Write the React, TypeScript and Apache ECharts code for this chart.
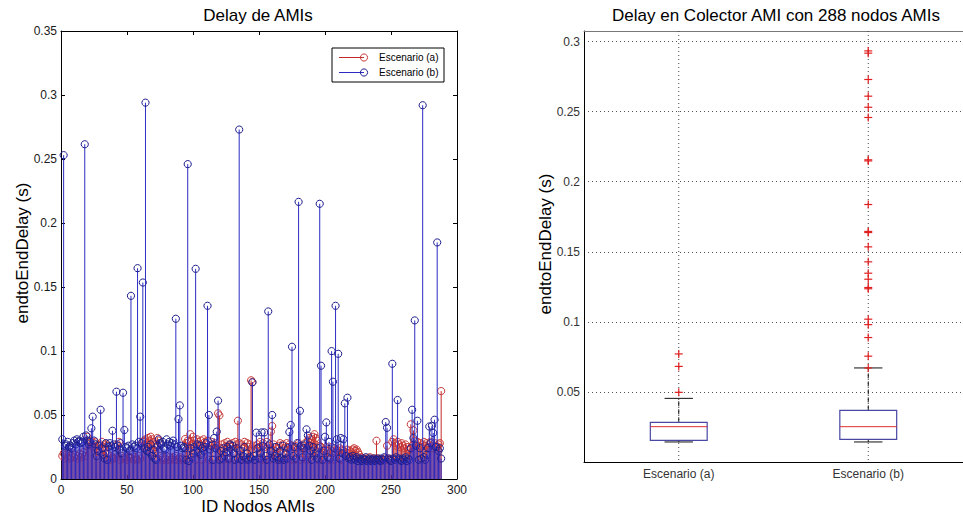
import React, { useEffect, useRef } from 'react';
import * as echarts from 'echarts';

const FONT = '"Liberation Sans", Arial, Helvetica, sans-serif';

// Node ids 1..288 (x positions of the stems)
const nodeIds: number[] = Array.from({ length: 288 }, (_, i) => i + 1);

// Escenario (a) - end-to-end delay per node (s)
const delayA: number[] = [
  0.018, 0.020, 0.016, 0.019, 0.017, 0.021, 0.016, 0.018, 0.020, 0.017, 0.019, 0.016,
  0.018, 0.020, 0.017, 0.019, 0.021, 0.018, 0.026, 0.033, 0.028, 0.030, 0.027, 0.025,
  0.028, 0.029, 0.024, 0.026, 0.021, 0.027, 0.029, 0.025, 0.023, 0.027, 0.020, 0.026,
  0.015, 0.018, 0.016, 0.016, 0.019, 0.017, 0.027, 0.029, 0.015, 0.018, 0.016, 0.017,
  0.016, 0.015, 0.018, 0.017, 0.016, 0.019, 0.015, 0.017, 0.016, 0.015, 0.018, 0.016,
  0.026, 0.029, 0.030, 0.031, 0.028, 0.032, 0.030, 0.033, 0.031, 0.029, 0.027, 0.025,
  0.032, 0.030, 0.018, 0.015, 0.017, 0.015, 0.016, 0.018, 0.015, 0.017, 0.015, 0.016,
  0.017, 0.015, 0.018, 0.015, 0.016, 0.017, 0.015, 0.016, 0.015, 0.0312, 0.028, 0.030,
  0.029, 0.035, 0.027, 0.033, 0.030, 0.015, 0.031, 0.029, 0.027, 0.030, 0.015, 0.031,
  0.029, 0.027, 0.030, 0.015, 0.026, 0.029, 0.027, 0.015, 0.028, 0.026, 0.0513, 0.0497,
  0.024, 0.027, 0.015, 0.028, 0.026, 0.029, 0.015, 0.027, 0.025, 0.028, 0.015, 0.029,
  0.027, 0.0455, 0.028, 0.015, 0.027, 0.024, 0.029, 0.015, 0.028, 0.025, 0.027, 0.0771,
  0.0758, 0.026, 0.015, 0.024, 0.027, 0.025, 0.029, 0.015, 0.028, 0.025, 0.015, 0.029,
  0.026, 0.015, 0.037, 0.0414, 0.027, 0.025, 0.015, 0.024, 0.026, 0.028, 0.015, 0.027,
  0.024, 0.015, 0.028, 0.025, 0.027, 0.015, 0.026, 0.025, 0.015, 0.024, 0.026, 0.028,
  0.025, 0.015, 0.024, 0.026, 0.028, 0.015, 0.030, 0.032, 0.028, 0.031, 0.033, 0.035,
  0.032, 0.030, 0.015, 0.026, 0.025, 0.024, 0.015, 0.023, 0.025, 0.022, 0.015, 0.023,
  0.025, 0.022, 0.015, 0.021, 0.023, 0.022, 0.024, 0.015, 0.023, 0.022, 0.020, 0.021,
  0.023, 0.020, 0.022, 0.021, 0.023, 0.024, 0.022, 0.023, 0.021, 0.019, 0.017, 0.016,
  0.015, 0.016, 0.015, 0.016, 0.015, 0.017, 0.015, 0.016, 0.015, 0.016, 0.0299, 0.015,
  0.016, 0.015, 0.014, 0.015, 0.016, 0.015, 0.026, 0.015, 0.016, 0.015, 0.029, 0.031,
  0.028, 0.026, 0.029, 0.027, 0.025, 0.028, 0.026, 0.024, 0.027, 0.025, 0.023, 0.023,
  0.0427, 0.026, 0.038, 0.030, 0.027, 0.029, 0.026, 0.028, 0.025, 0.027, 0.029, 0.026,
  0.028, 0.025, 0.027, 0.029, 0.026, 0.024, 0.028, 0.026, 0.025, 0.027, 0.028, 0.0687,
];

// Escenario (b) - end-to-end delay per node (s)
const delayB: number[] = [
  0.031, 0.253, 0.026, 0.027, 0.029, 0.025, 0.026, 0.024, 0.028, 0.030, 0.027, 0.031,
  0.029, 0.030, 0.028, 0.029, 0.033, 0.2615, 0.034, 0.030, 0.027, 0.029, 0.0396, 0.0487,
  0.030, 0.027, 0.018, 0.022, 0.026, 0.0541, 0.024, 0.019, 0.016, 0.028, 0.015, 0.025,
  0.028, 0.026, 0.0377, 0.027, 0.025, 0.0682, 0.026, 0.023, 0.028, 0.020, 0.0674, 0.0383,
  0.025, 0.024, 0.026, 0.022, 0.1431, 0.027, 0.025, 0.026, 0.024, 0.1647, 0.029, 0.0487,
  0.028, 0.1535, 0.024, 0.294, 0.022, 0.025, 0.021, 0.027, 0.018, 0.023, 0.016, 0.015,
  0.026, 0.031, 0.028, 0.027, 0.029, 0.024, 0.023, 0.031, 0.027, 0.029, 0.026, 0.028,
  0.030, 0.027, 0.1252, 0.025, 0.0468, 0.0575, 0.026, 0.024, 0.025, 0.024, 0.015, 0.246,
  0.014, 0.024, 0.017, 0.020, 0.025, 0.1642, 0.027, 0.021, 0.026, 0.019, 0.024, 0.022,
  0.025, 0.028, 0.1353, 0.0500, 0.023, 0.026, 0.015, 0.032, 0.024, 0.037, 0.0612, 0.015,
  0.022, 0.016, 0.024, 0.018, 0.021, 0.025, 0.016, 0.027, 0.023, 0.026, 0.020, 0.015,
  0.024, 0.016, 0.273, 0.022, 0.015, 0.018, 0.025, 0.016, 0.020, 0.015, 0.017, 0.016,
  0.0755, 0.018, 0.015, 0.0362, 0.024, 0.016, 0.020, 0.0364, 0.026, 0.0364, 0.018, 0.015,
  0.1309, 0.027, 0.022, 0.0500, 0.016, 0.018, 0.025, 0.017, 0.015, 0.022, 0.016, 0.026,
  0.015, 0.020, 0.016, 0.024, 0.0367, 0.0422, 0.1033, 0.018, 0.025, 0.016, 0.028, 0.2165,
  0.0533, 0.026, 0.017, 0.024, 0.027, 0.0388, 0.034, 0.026, 0.022, 0.015, 0.025, 0.018,
  0.020, 0.016, 0.024, 0.215, 0.0885, 0.015, 0.022, 0.033, 0.0442, 0.017, 0.029, 0.016,
  0.0999, 0.076, 0.024, 0.1353, 0.031, 0.0978, 0.016, 0.032, 0.020, 0.031, 0.0591, 0.018,
  0.0635, 0.016, 0.017, 0.015, 0.018, 0.016, 0.015, 0.017, 0.014, 0.016, 0.015, 0.014,
  0.016, 0.015, 0.017, 0.014, 0.015, 0.016, 0.014, 0.015, 0.016, 0.014, 0.015, 0.016,
  0.015, 0.014, 0.016, 0.015, 0.017, 0.0445, 0.040, 0.016, 0.015, 0.014, 0.090, 0.016,
  0.015, 0.017, 0.0617, 0.016, 0.015, 0.014, 0.016, 0.015, 0.017, 0.014, 0.016, 0.015,
  0.024, 0.0541, 0.032, 0.1239, 0.026, 0.0455, 0.015, 0.024, 0.016, 0.292, 0.017, 0.015,
  0.019, 0.024, 0.041, 0.028, 0.0416, 0.036, 0.0463, 0.025, 0.1848, 0.022, 0.024, 0.016,
];

// Boxplot (right panel)
const boxCategories: string[] = ['Escenario (a)', 'Escenario (b)'];
// [lower whisker, Q1, median, Q3, upper whisker]
const boxA: number[] = [0.0143, 0.0154, 0.0252, 0.0283, 0.0454];
const boxB: number[] = [0.0143, 0.0161, 0.0252, 0.0368, 0.0671];
const outliersA: number[] = [0.0497, 0.0682, 0.0771];
const outliersB: number[] = [
  0.0671, 0.0755, 0.0888, 0.098, 0.1019, 0.1236, 0.1245, 0.1304, 0.1347, 0.1428, 0.1535,
  0.1637, 0.1645, 0.1837, 0.2148, 0.2156, 0.2458, 0.2531, 0.261, 0.2729, 0.2917, 0.2933,
];

const RED_STEM = '#c42a2a';
const RED_MARK = '#c83a3a';
const BLUE_STEM = '#2c2cc4';
const BLUE_MARK = '#1e1e8e';
const BOX_BLUE = '#4848a4';

const fmt = (v: number) => (v === 0 ? '0' : String(parseFloat(v.toFixed(2))));

const stemRender = (stem: string, mark: string) => (params: any, api: any) => {
  const x = api.value(0);
  const y = api.value(1);
  const top = api.coord([x, y]);
  const base = api.coord([x, 0]);
  return {
    type: 'group',
    children: [
      {
        type: 'line',
        shape: { x1: top[0], y1: base[1], x2: top[0], y2: top[1] },
        style: { stroke: stem, lineWidth: 1 },
      },
      {
        type: 'circle',
        shape: { cx: top[0], cy: top[1], r: 3.6 },
        style: { fill: 'none', stroke: mark, lineWidth: 1 },
      },
    ],
  };
};

const boxRender = (params: any, api: any) => {
  const idx = api.value(0);
  const lo = api.value(1);
  const q1 = api.value(2);
  const med = api.value(3);
  const q3 = api.value(4);
  const hi = api.value(5);
  const cs = params.coordSys;
  const cx = api.coord([idx, med])[0];
  const yOf = (v: number) => api.coord([idx, v])[1];
  const band = api.size([1, 0])[0];
  const bw = band * 0.15;
  const cw = band * 0.075;
  const black = '#111';
  return {
    type: 'group',
    children: [
      {
        type: 'line',
        shape: { x1: cx, y1: cs.y, x2: cx, y2: cs.y + cs.height },
        style: { stroke: '#444', lineWidth: 1, lineDash: [1, 3] },
      },
      {
        type: 'line',
        shape: { x1: cx, y1: yOf(q3), x2: cx, y2: yOf(hi) },
        style: { stroke: black, lineWidth: 1, lineDash: [5, 3] },
      },
      {
        type: 'line',
        shape: { x1: cx, y1: yOf(lo), x2: cx, y2: yOf(q1) },
        style: { stroke: black, lineWidth: 1, lineDash: [5, 3] },
      },
      {
        type: 'line',
        shape: { x1: cx - cw, y1: yOf(hi), x2: cx + cw, y2: yOf(hi) },
        style: { stroke: black, lineWidth: 1 },
      },
      {
        type: 'line',
        shape: { x1: cx - cw, y1: yOf(lo), x2: cx + cw, y2: yOf(lo) },
        style: { stroke: black, lineWidth: 1 },
      },
      {
        type: 'rect',
        shape: { x: cx - bw, y: yOf(q3), width: 2 * bw, height: yOf(q1) - yOf(q3) },
        style: { fill: '#fff', stroke: BOX_BLUE, lineWidth: 1.2 },
      },
      {
        type: 'line',
        shape: { x1: cx - bw, y1: yOf(med), x2: cx + bw, y2: yOf(med) },
        style: { stroke: '#e03030', lineWidth: 1 },
      },
    ],
  };
};

const plusRender = (params: any, api: any) => {
  const p = api.coord([api.value(0), api.value(1)]);
  const h = 4;
  return {
    type: 'group',
    children: [
      { type: 'line', shape: { x1: p[0] - h, y1: p[1], x2: p[0] + h, y2: p[1] }, style: { stroke: '#e02020', lineWidth: 1.2 } },
      { type: 'line', shape: { x1: p[0], y1: p[1] - h, x2: p[0], y2: p[1] + h }, style: { stroke: '#e02020', lineWidth: 1.2 } },
    ],
  };
};

const axisText = { color: '#1a1a1a', fontSize: 12, fontFamily: FONT };
const blackLine = { show: true, onZero: false, lineStyle: { color: '#000', width: 1 } };
const inTick = { show: true, inside: true, length: 4, lineStyle: { color: '#000' } };

const txt = (text: string, x: number, y: number, size: number, extra: any = {}) => ({
  type: 'text',
  x,
  y,
  z: 100,
  ...extra,
  style: {
    text,
    fontSize: size,
    fontFamily: FONT,
    fill: '#000',
    textAlign: 'center',
    textVerticalAlign: 'middle',
    ...(extra.style || {}),
  },
});

const option: any = {
  animation: false,
  textStyle: { fontFamily: FONT },
  grid: [
    { left: 61, top: 31, width: 396, height: 448 },
    { left: 584, top: 31, width: 386, height: 431 },
  ],
  xAxis: [
    {
      gridIndex: 0, type: 'value', min: 0, max: 300, interval: 50, position: 'bottom',
      axisLine: blackLine, axisTick: inTick, axisLabel: { ...axisText, margin: 5 }, splitLine: { show: false },
    },
    {
      gridIndex: 0, type: 'value', min: 0, max: 300, interval: 50, position: 'top',
      axisLine: blackLine, axisTick: inTick, axisLabel: { show: false }, splitLine: { show: false },
    },
    {
      gridIndex: 1, type: 'category', data: boxCategories, position: 'bottom',
      axisLine: blackLine, axisTick: { show: false },
      axisLabel: { ...axisText, fontSize: 12, color: '#333', margin: 6 }, splitLine: { show: false },
    },
    {
      gridIndex: 1, type: 'category', data: boxCategories, position: 'top',
      axisLine: { show: true, onZero: false, lineStyle: { color: '#777', width: 1 } },
      axisTick: { show: false }, axisLabel: { show: false }, splitLine: { show: false },
    },
  ],
  yAxis: [
    {
      gridIndex: 0, type: 'value', min: 0, max: 0.35, interval: 0.05,
      axisLine: blackLine, axisTick: inTick, axisLabel: { ...axisText, margin: 4, formatter: fmt },
      splitLine: { show: false },
    },
    {
      gridIndex: 0, type: 'value', min: 0, max: 0.35, interval: 0.05, position: 'right',
      axisLine: blackLine, axisTick: inTick, axisLabel: { show: false }, splitLine: { show: false },
    },
    {
      gridIndex: 1, type: 'value', min: 0, max: 0.3075, interval: 0.05,
      axisLine: blackLine, axisTick: { show: false },
      axisLabel: {
        ...axisText, color: '#333', margin: 4,
        formatter: (v: number) => (v === 0 || v > 0.301 ? '' : fmt(v)),
      },
      splitLine: { show: true, lineStyle: { color: '#555', width: 1, type: [1, 3] } },
    },
  ],
  series: [
    {
      type: 'custom', xAxisIndex: 0, yAxisIndex: 0, z: 2,
      data: nodeIds.map((id, i) => [id, delayA[i]]),
      encode: { x: 0, y: 1 },
      renderItem: stemRender(RED_STEM, RED_MARK),
    },
    {
      type: 'custom', xAxisIndex: 0, yAxisIndex: 0, z: 3,
      data: nodeIds.map((id, i) => [id, delayB[i]]),
      encode: { x: 0, y: 1 },
      renderItem: stemRender(BLUE_STEM, BLUE_MARK),
    },
    {
      type: 'custom', xAxisIndex: 2, yAxisIndex: 2, z: 2,
      data: [[0, ...boxA], [1, ...boxB]],
      encode: { x: 0, y: [1, 2, 3, 4, 5] },
      renderItem: boxRender,
    },
    {
      type: 'custom', xAxisIndex: 2, yAxisIndex: 2, z: 4,
      data: [...outliersA.map((v) => [0, v]), ...outliersB.map((v) => [1, v])],
      encode: { x: 0, y: 1 },
      renderItem: plusRender,
    },
  ],
  graphic: [
    txt('Delay de AMIs', 258, 15, 17),
    txt('ID Nodos AMIs', 258, 506, 17),
    txt('endtoEndDelay (s)', 22, 253, 17, { rotation: Math.PI / 2 }),
    txt('Delay en Colector AMI con 288 nodos AMIs', 776, 15, 17),
    txt('endtoEndDelay (s)', 545, 244, 17, { rotation: Math.PI / 2 }),
    {
      type: 'rect', z: 100,
      shape: { x: 332, y: 48, width: 112, height: 34 },
      style: { fill: '#fff', stroke: '#000', lineWidth: 1 },
    },
    { type: 'line', z: 101, shape: { x1: 339, y1: 57.5, x2: 364, y2: 57.5 }, style: { stroke: RED_STEM, lineWidth: 1 } },
    { type: 'circle', z: 101, shape: { cx: 364, cy: 57.5, r: 3.6 }, style: { fill: 'none', stroke: RED_MARK, lineWidth: 1 } },
    txt('Escenario (a)', 379, 57.5, 10, { z: 101, style: { textAlign: 'left' } }),
    { type: 'line', z: 101, shape: { x1: 339, y1: 72.5, x2: 364, y2: 72.5 }, style: { stroke: BLUE_STEM, lineWidth: 1 } },
    { type: 'circle', z: 101, shape: { cx: 364, cy: 72.5, r: 3.6 }, style: { fill: 'none', stroke: BLUE_MARK, lineWidth: 1 } },
    txt('Escenario (b)', 379, 72.5, 10, { z: 101, style: { textAlign: 'left' } }),
  ],
};

export default function App() {
  const ref = useRef<HTMLDivElement>(null);
  useEffect(() => {
    if (!ref.current) return;
    const chart = echarts.init(ref.current, null, { renderer: 'svg' });
    chart.setOption(option);
    return () => chart.dispose();
  }, []);
  return (
    <div
      ref={ref}
      style={{ position: 'absolute', left: 0, top: 0, width: 963, height: 516, background: '#fff' }}
    />
  );
}
